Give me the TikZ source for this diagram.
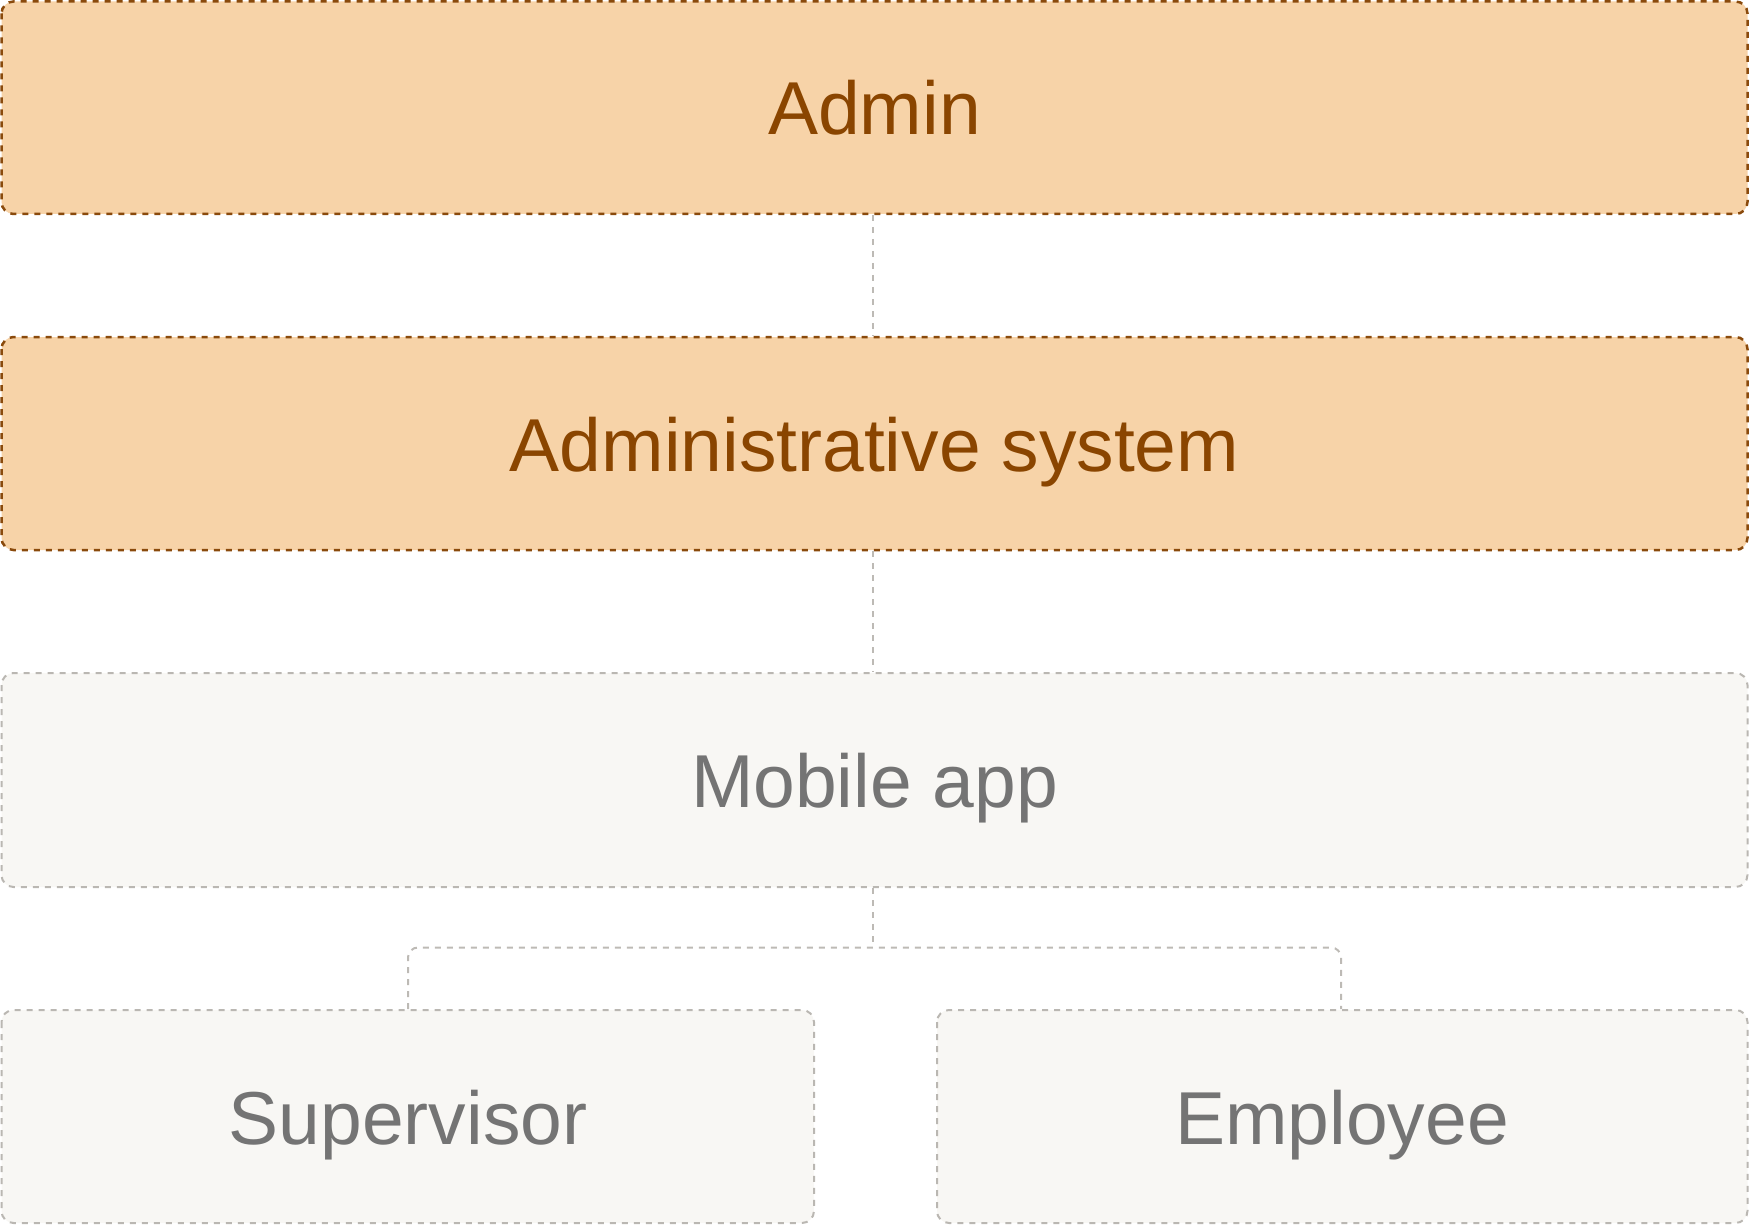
\documentclass[tikz,border=0pt]{standalone}
\usepackage{fontspec}
\setmainfont{Liberation Sans}
\definecolor{orfill}{HTML}{F7D3A8}
\definecolor{ordraw}{HTML}{8A4A0C}
\definecolor{ortext}{HTML}{8A4500}
\definecolor{grfill}{HTML}{F8F7F4}
\definecolor{grdraw}{HTML}{BAB7B2}
\definecolor{grtext}{HTML}{747474}
\definecolor{lnk}{HTML}{BDBAB5}
\tikzset{
  box/.style={rounded corners=12pt, line width=2.5pt, dash pattern=on 6pt off 6pt},
  orbox/.style={box, fill=orfill, draw=ordraw},
  grbox/.style={box, fill=grfill, draw=grdraw, line width=2pt},
  lbl/.style={font=\fontsize{75}{80}\selectfont, inner sep=0pt, anchor=base},
  link/.style={draw=lnk, line width=2pt, dash pattern=on 6pt off 6pt, rounded corners=10pt},
}
\begin{document}
\begin{tikzpicture}[x=1pt,y=-1pt]
\useasboundingbox (0,0) rectangle (1749,1225);
% boxes
\draw[orbox] (1.5,1.5) rectangle (1747.5,214);
\draw[orbox] (1.5,337) rectangle (1747.5,550);
\draw[grbox] (1.5,673) rectangle (1747.5,887);
\draw[grbox] (1.5,1010) rectangle (814,1223);
\draw[grbox] (937,1010) rectangle (1747.5,1223);
% named nodes (labels), baselines placed so capitals are centred
\node[lbl, text=ortext] (admin) at (874.5,135) {Admin};
\node[lbl, text=ortext] (sys) at (874.5,471.5) {Administrative system};
\node[lbl, text=grtext] (mobile) at (874.5,807.5) {Mobile app};
\node[lbl, text=grtext] (sup) at (408,1144) {Supervisor};
\node[lbl, text=grtext] (emp) at (1342,1144) {Employee};
% anchor coordinates on the box edges
\coordinate (adminB) at (872.5,215);
\coordinate (sysT) at (872.5,336);
\coordinate (sysB) at (872.5,551);
\coordinate (mobT) at (872.5,672);
\coordinate (mobB) at (872.5,888);
\coordinate (mid) at (872.5,947.5);
\coordinate (supT) at (408,1009);
\coordinate (empT) at (1341,1009);
% connectors
\draw[link] (adminB) -- (sysT);
\draw[link] (sysB) -- (mobT);
\draw[link] (mobB) -- (mid);
\draw[link] (supT) |- (mid) -| (empT);
\end{tikzpicture}
\end{document}
